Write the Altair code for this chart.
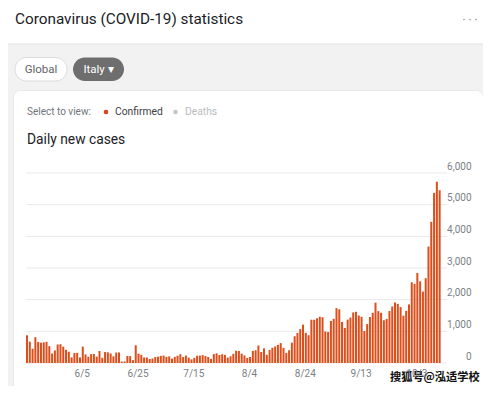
import altair as alt
import pandas as pd

# ---------------- data ----------------
first_day = "2020-05-16"
may_values = [875, 675, 451, 813, 665, 642, 652, 669, 531, 300, 397, 584, 593, 516, 416, 355]
jun_values = [178, 318, 321, 177, 518, 270, 197, 280, 283, 202, 379, 163, 346, 338, 301,
              210, 329, 333, 45, 50, 224, 218, 90, 560, 296, 259, 175, 174, 126, 142]
jul_values = [187, 201, 223, 235, 192, 208, 138, 193, 229, 276, 188, 234, 169, 114, 162,
              230, 233, 249, 219, 190, 129, 282, 306, 252, 275, 255, 170, 212, 289, 386, 379]
aug_values = [295, 239, 159, 190, 384, 402, 552, 347, 463, 259, 412, 481, 523, 574, 629,
              479, 320, 403, 642, 845, 947, 1071, 1210, 953, 878, 1367, 1366, 1411, 1462, 1444, 996]
sep_values = [978, 1326, 1397, 1733, 1695, 1297, 1108, 1370, 1434, 1597, 1616, 1501, 1458, 1008, 1229,
              1452, 1585, 1907, 1638, 1587, 1350, 1392, 1640, 1786, 1912, 1869, 1766, 1494, 1648, 1851]
oct_values = [2548, 2499, 2844, 2578, 2257, 2677, 3678, 4458, 5372, 5724, 5456]

x_domain_dates = ["2020-05-16", "2020-10-14"]
x_tick_dates = ["2020-06-05", "2020-06-25", "2020-07-15", "2020-08-04",
                "2020-08-24", "2020-09-13", "2020-10-03"]
y_ticks = [0, 1000, 2000, 3000, 4000, 5000, 6000]

title_text = "Coronavirus (COVID-19) statistics"
chart_title = "Daily new cases"
select_text = "Select to view:"
series_on = "Confirmed"
series_off = "Deaths"
tab_global = "Global"
tab_country = "Italy \u25BE"
watermark = "搜狐号@泓适学校"

values = may_values + jun_values + jul_values + aug_values + sep_values + oct_values
dates = pd.date_range(first_day, periods=len(values), freq="D").strftime("%Y-%m-%d").tolist()
df = pd.DataFrame({"date": dates, "value": values})
grid_df = pd.DataFrame({"tick": y_ticks})
one = pd.DataFrame({"k": [0]})


def ms(d):
    return int(pd.Timestamp(d, tz="UTC").timestamp() * 1000)


# ---------------- style / layout ----------------
BAR = "#dc4f1c"
GRID = "#e9e9e9"
AXIS_TXT = "#7b7f85"
BG = "#f2f2f2"
W, H = 421, 190
OX, OY = 26, 173          # page position of the plot area's top-left


def PX(x):
    return x - OX


def PY(y):
    return y - OY


def rect(x1, x2, y1, y2, fill, r=0, stroke=None, sw=0):
    kw = dict(color=fill, cornerRadius=r)
    if stroke:
        kw.update(stroke=stroke, strokeWidth=sw)
    return alt.Chart(one).mark_rect(**kw).encode(
        x=alt.value(PX(x1)), x2=alt.value(PX(x2)), y=alt.value(PY(y1)), y2=alt.value(PY(y2)))


def label(text, x, y, size, color, align="left", weight="normal", font="Roboto",
          baseline="middle", **extra):
    return alt.Chart(one).mark_text(text=text, align=align, baseline=baseline, fontSize=size,
                                    color=color, font=font, fontWeight=weight, **extra).encode(
        x=alt.value(PX(x)), y=alt.value(PY(y)))


def dot(x, y, color, size):
    return alt.Chart(one).mark_circle(color=color, size=size, opacity=1).encode(
        x=alt.value(PX(x)), y=alt.value(PY(y)))


xscale = alt.Scale(type="utc", domain=[ms(d) for d in x_domain_dates], nice=False, padding=0)
yscale = alt.Scale(domain=[0, 6000], nice=False, padding=0, zero=True)

xaxis = alt.Axis(values=[ms(d) for d in x_tick_dates], labelExpr="utcFormat(datum.value, '%-m/%-d')",
                 title=None, grid=False, domain=False, ticks=False, tickSize=0, labelFlush=False,
                 labelOverlap=False, labelColor=AXIS_TXT, labelFontSize=10, labelFont="Roboto",
                 labelPadding=5, zindex=1)
yaxis = alt.Axis(values=y_ticks, labelExpr="format(datum.value, ',d')", orient="right", title=None,
                 grid=False, domain=False, ticks=False, tickSize=0, labelAlign="right", labelPadding=24,
                 labelBaseline="middle", labelOffset=-7, labelColor=AXIS_TXT, labelFontSize=10,
                 labelFont="Roboto", labelOverlap=False, zindex=1)

top_band = rect(0, 499, 0, 44, "white")
sep = rect(0, 499, 43.5, 44.5, "#e2e2e2")
card = rect(13.5, 483.5, 90.5, 440, "white", r=7, stroke="#e4e4e4", sw=0.8)
pill_g = rect(15, 67, 57.5, 81, "white", r=12, stroke="#dadce0", sw=1)
pill_i = rect(73, 124, 57.5, 81, "#6e6e6e", r=12)

texts = [
    label(title_text, 15, 23.5, 15.3, "#202124", baseline="alphabetic"),
    label(tab_global, 41, 69.5, 11.5, "#5f6368", align="center"),
    label(tab_country, 98.5, 69.5, 11.5, "white", align="center"),
    label(select_text, 27, 112, 10, "#70757a"),
    label(series_on, 115, 112, 10.3, "#3c4043"),
    label(series_off, 185, 112, 10.3, "#b9bcbf"),
    label(chart_title, 27, 139.5, 13.8, "#202124"),
]
dots = [dot(106, 112, "#d84315", 22), dot(175.5, 112, "#c4c4c4", 20),
        dot(464, 19.5, "#9aa0a6", 3), dot(470, 19.5, "#9aa0a6", 3), dot(476, 19.5, "#9aa0a6", 3)]

grid = alt.Chart(grid_df).mark_rule(color=GRID, strokeWidth=1).encode(
    y=alt.Y("tick:Q", scale=yscale, axis=yaxis),
    x=alt.value(0), x2=alt.value(W))

bars = alt.Chart(df).transform_calculate(
    t0="toDate(datum.date)",
    t1="toDate(datum.date) + 0.72 * 86400000",
).mark_rect(color=BAR).encode(
    x=alt.X("t0:T", scale=xscale, axis=xaxis),
    x2="t1:T",
    y=alt.Y("value:Q", scale=yscale, axis=yaxis),
    y2=alt.datum(0),
)

wm_halo = label(watermark, 390, 378, 11.2, "black", weight="bold", font="Noto Sans CJK SC",
                stroke="white", strokeWidth=3, strokeOpacity=0.9)
wm = label(watermark, 390, 378, 11.2, "#111111", weight="bold", font="Noto Sans CJK SC")

chart = alt.layer(
    top_band, sep, card, pill_g, pill_i, *texts, *dots, grid, bars, wm_halo, wm
).properties(
    width=W, height=H,
    autosize=alt.AutoSizeParams(type="none"),
    padding={"left": OX - 8, "top": OY - 8, "right": 483 - 8 - (OX - 8) - W, "bottom": 378 - (OY - 8) - H},
    background=BG,
).configure_view(strokeWidth=0)

chart.save("out.html", embed_options={"renderer": "svg", "actions": False})
